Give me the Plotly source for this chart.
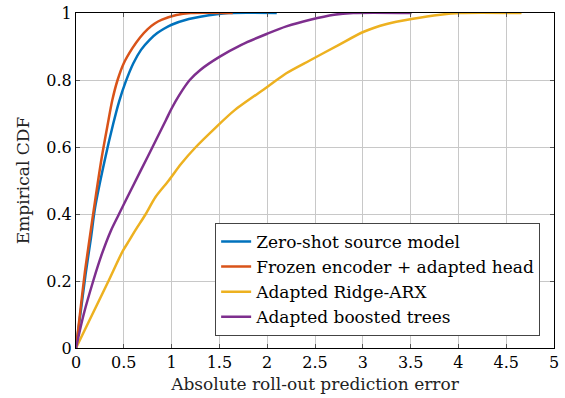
import plotly.graph_objects as go

# ---- data ----
zero_shot_x = [0, 0.05, 0.10, 0.157, 0.20, 0.30, 0.39, 0.45, 0.52, 0.60, 0.68, 0.77, 0.85, 0.92, 1.0, 1.18, 1.30, 1.6, 2.1]
zero_shot_y = [0, 0.11, 0.22, 0.33, 0.42, 0.56, 0.67, 0.735, 0.795, 0.85, 0.89, 0.92, 0.94, 0.953, 0.965, 0.982, 0.989, 1.0, 1.0]

frozen_x = [0, 0.045, 0.09, 0.139, 0.20, 0.27, 0.33, 0.38, 0.435, 0.50, 0.59, 0.67, 0.75, 0.82, 0.90, 1.05, 1.2, 1.64]
frozen_y = [0, 0.11, 0.22, 0.32, 0.44, 0.57, 0.665, 0.74, 0.80, 0.85, 0.895, 0.927, 0.952, 0.968, 0.98, 0.994, 1.0, 1.0]

ridge_x = [0, 0.17, 0.34, 0.49, 0.557, 0.62, 0.73, 0.83, 0.97, 1.1, 1.254, 1.45, 1.66, 2.0, 2.2, 2.45, 2.75, 3.01, 3.25, 3.51, 3.81, 4.02, 4.66]
ridge_y = [0, 0.10, 0.20, 0.29, 0.321, 0.351, 0.40, 0.45, 0.50, 0.55, 0.60, 0.655, 0.71, 0.779, 0.82, 0.859, 0.905, 0.944, 0.967, 0.982, 0.995, 1.0, 1.0]

trees_x = [0, 0.08, 0.18, 0.27, 0.366, 0.45, 0.60, 0.75, 0.94, 1.0, 1.08, 1.19, 1.3, 1.5, 1.73, 2.0, 2.2, 2.45, 2.7, 2.9, 3.51]
trees_y = [0, 0.10, 0.20, 0.28, 0.351, 0.40, 0.486, 0.571, 0.68, 0.715, 0.755, 0.80, 0.83, 0.869, 0.905, 0.938, 0.96, 0.98, 0.995, 1.0, 1.0]

series_names = ["Zero-shot source model", "Frozen encoder + adapted head",
                "Adapted Ridge-ARX", "Adapted boosted trees"]
series_colors = ["#0072BD", "#D95319", "#EDB120", "#7E2F8E"]

x_ticks = [0, 0.5, 1, 1.5, 2, 2.5, 3, 3.5, 4, 4.5, 5]
x_tick_labels = ["0", "0.5", "1", "1.5", "2", "2.5", "3", "3.5", "4", "4.5", "5"]
y_ticks = [0, 0.2, 0.4, 0.6, 0.8, 1]
y_tick_labels = ["0", "0.2", "0.4", "0.6", "0.8", "1"]

FONT = "DejaVu Serif"

fig = go.Figure()
for xs, ys, name, col in zip([zero_shot_x, frozen_x, ridge_x, trees_x],
                             [zero_shot_y, frozen_y, ridge_y, trees_y],
                             series_names, series_colors):
    fig.add_trace(go.Scatter(x=xs, y=ys, mode="lines", name=name,
                             line=dict(color=col, width=2.5, shape="spline", smoothing=0.8)))

axis_common = dict(showline=True, linecolor="black", linewidth=1.2, mirror="ticks",
                   ticks="inside", ticklen=4, tickcolor="#555555", tickwidth=1,
                   showgrid=True, gridcolor="#c8c8c8", gridwidth=1, zeroline=False,
                   automargin=False,
                   tickfont=dict(family=FONT, size=16, color="black"))

fig.update_xaxes(range=[0, 5], tickvals=x_ticks, ticktext=x_tick_labels,
                 title=dict(text="Absolute roll-out prediction error",
                            font=dict(family=FONT, size=17, color="#222"), standoff=6),
                 **axis_common)
fig.update_yaxes(range=[0, 1], tickvals=y_ticks, ticktext=y_tick_labels,
                 title=dict(text="Empirical CDF",
                            font=dict(family=FONT, size=17, color="#222"), standoff=12),
                 **axis_common)

fig.update_layout(
    width=565, height=398,
    margin=dict(l=76, r=11, t=13, b=50),
    plot_bgcolor="white", paper_bgcolor="white",
    font=dict(family=FONT, size=16, color="black"),
    legend=dict(x=0.971, y=0.036, xanchor="right", yanchor="bottom",
                bgcolor="white", bordercolor="#444", borderwidth=1,
                font=dict(family=FONT, size=17, color="black"),
                itemwidth=30, tracegroupgap=0),
    showlegend=True,
)

fig.write_html("out.html", config={"displayModeBar": False},
               post_script="document.body.style.margin='0';")
